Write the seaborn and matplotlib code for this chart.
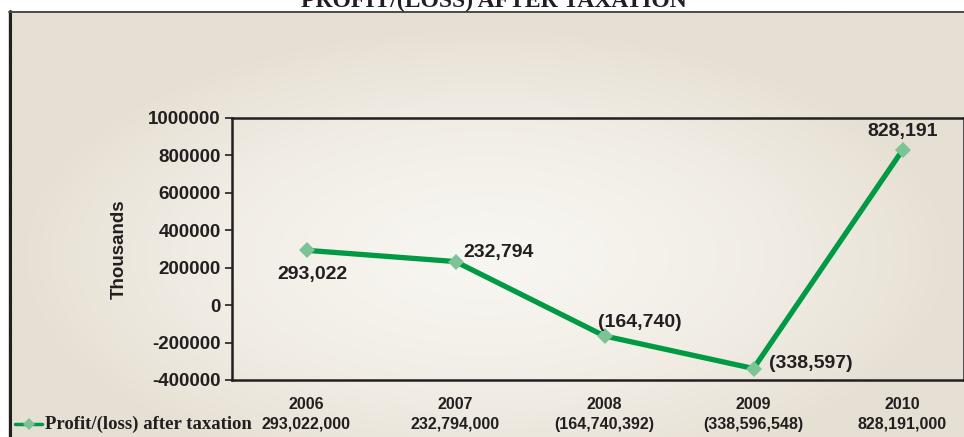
import numpy as np
import pandas as pd
import matplotlib

matplotlib.use("Agg")
import matplotlib.pyplot as plt
from matplotlib.lines import Line2D
from matplotlib.colors import LinearSegmentedColormap
import seaborn as sns

years = ["2006", "2007", "2008", "2009", "2010"]
profit_thousands = [293022, 232794, -164740, -338597, 828191]
point_labels = ["293,022", "232,794", "(164,740)", "(338,597)", "828,191"]
table_values = ["293,022,000", "232,794,000", "(164,740,392)", "(338,596,548)", "828,191,000"]
series_name = "Profit/(loss) after taxation"
title = "PROFIT/(LOSS) AFTER TAXATION"

LINE_GREEN = "#009a44"
MARKER_GREEN = "#7cc396"
TEXT = "#231f20"
W, H = 964, 437

sns.set_theme(style="white")
plt.rcParams["font.family"] = ["Liberation Sans", "DejaVu Sans"]

fig = plt.figure(figsize=(W / 100, H / 100), dpi=100)
fig.patch.set_facecolor("white")

# beige panel with a soft light centre
bg = fig.add_axes([8 / W, 0, 1 - 8 / W, 1 - 12 / H], zorder=-2)
gx, gy = np.meshgrid(np.linspace(-1, 1, 400), np.linspace(-1, 1, 200))
dist = np.clip(np.sqrt(((gx - 0.0) / 1.0) ** 2 + ((gy - 0.15) / 1.1) ** 2), 0, 1)
cmap = LinearSegmentedColormap.from_list("panel", ["#f8f6f1", "#f1ede5", "#e6dfd3"])
bg.imshow(dist ** 1.3, cmap=cmap, aspect="auto", extent=(0, 1, 0, 1), vmin=0, vmax=1)
bg.set_axis_off()

fig.add_artist(Line2D([9.5 / W, 9.5 / W], [0, 1 - 11 / H], color="#231f20", lw=2.2))
fig.add_artist(Line2D([9 / W, 1], [1 - 11.5 / H, 1 - 11.5 / H], color="#4a4a4a", lw=1.4))

# title is cut by the top edge, as in the source
fig.text(494 / W, 1 - 7 / H, title, ha="center", va="baseline", fontsize=17,
         fontweight="bold", family=["Liberation Serif", "DejaVu Serif"], color=TEXT)

left, right, top, bottom = 232, W, 118, 380
ax = fig.add_axes([left / W, 1 - bottom / H, (right - left) / W, (bottom - top) / H])
ax.patch.set_alpha(0)

df = pd.DataFrame({"year": years, "value": profit_thousands})
sns.lineplot(data=df, x="year", y="value", ax=ax, color=LINE_GREEN, lw=3.8,
             marker="D", markersize=8.5, markerfacecolor=MARKER_GREEN,
             markeredgecolor=MARKER_GREEN, markeredgewidth=0)

ax.set_xlim(-0.5, (right - left) / 149 - 0.5)
ax.set_ylim(-400000, 1000000)
ax.set_yticks(np.arange(-400000, 1000001, 200000))
ax.set_yticklabels([f"{v:d}" for v in range(-400000, 1000001, 200000)])
ax.set_xlabel("")
ax.set_ylabel("Thousands", fontsize=13.5, fontweight="bold", color=TEXT, labelpad=15)

for s in ax.spines.values():
    s.set_color("#231f20")
    s.set_linewidth(1.8)
ax.tick_params(axis="y", which="major", left=True, length=5, width=1.2,
               color="#231f20", labelsize=13.5, labelcolor=TEXT, pad=3)
ax.tick_params(axis="x", bottom=False, labelsize=11.5, labelcolor=TEXT, pad=6)
for lab in ax.get_xticklabels() + ax.get_yticklabels():
    lab.set_fontweight("bold")

offsets = [(6, -24), (43, 9), (35, 13), (57, 5), (0, 19)]
for i, (v, lab) in enumerate(zip(profit_thousands, point_labels)):
    dx, dy = offsets[i]
    ax.annotate(lab, (i, v), xytext=(dx, dy), textcoords="offset pixels",
                ha="center", va="center", fontsize=14, fontweight="bold", color=TEXT)

# data table row
trans = ax.get_xaxis_transform()
row_y = (bottom - 424) / (bottom - top)
for i, val in enumerate(table_values):
    ax.text(i, row_y, val, transform=trans, ha="center", va="center",
            fontsize=11.5, fontweight="bold", color=TEXT, clip_on=False)

fig.add_artist(Line2D([15 / W, 42 / W], [1 - 424 / H] * 2, color=LINE_GREEN, lw=2.5))
fig.add_artist(Line2D([28.5 / W], [1 - 424 / H], color=MARKER_GREEN, marker="D",
                      markersize=6, markeredgewidth=0))
fig.text(45 / W, 1 - 424 / H, series_name, ha="left", va="center", fontsize=13.5,
         fontweight="bold", family=["Liberation Serif", "DejaVu Serif"], color=TEXT)

fig.savefig("out.png", dpi=100)
